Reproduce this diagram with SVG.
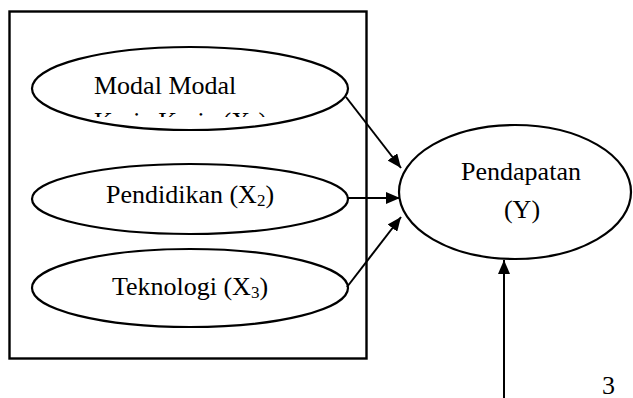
<svg xmlns="http://www.w3.org/2000/svg" width="633" height="398" viewBox="0 0 633 398">
  <style>
    .shape { fill: #ffffff; stroke: #000000; stroke-width: 2.2; }
    .frame { fill: none; stroke: #000000; stroke-width: 2.4; }
    .label { font-family: "Liberation Serif", "Times New Roman", serif; font-size: 26px; fill: #000000; }
    .sub { font-size: 17px; }
    .edge { stroke: #000000; stroke-width: 2; fill: none; marker-end: url(#arrow); }
  </style>
  <defs>
    <marker id="arrow" viewBox="0 0 14 12" refX="14" refY="6" markerWidth="14" markerHeight="12" markerUnits="userSpaceOnUse" orient="auto">
      <path d="M0,0 L14,6 L0,12 Z" fill="#000000"/>
    </marker>
    <!-- the second line of the first label only shows its top band -->
    <clipPath id="clip-x1">
      <rect x="60" y="100" width="260" height="17"/>
    </clipPath>
  </defs>

  <!-- boundary box around the independent variables -->
  <rect class="frame" x="9.5" y="11.5" width="357" height="347"/>

  <g id="x1">
    <ellipse class="shape" cx="190" cy="88.5" rx="158" ry="41.5"/>
    <text class="label" x="94" y="94">Modal Modal</text>
    <text class="label" x="94" y="130" clip-path="url(#clip-x1)">Kerja Kerja (X<tspan class="sub" dy="3">1</tspan><tspan dy="-3">)</tspan></text>
  </g>

  <g id="x2">
    <ellipse class="shape" cx="190" cy="199" rx="158" ry="35"/>
    <text class="label" x="190" y="203" text-anchor="middle">Pendidikan (X<tspan class="sub" dy="3">2</tspan><tspan dy="-3">)</tspan></text>
  </g>

  <g id="x3">
    <ellipse class="shape" cx="190" cy="288" rx="158" ry="39"/>
    <text class="label" x="190" y="295" text-anchor="middle">Teknologi (X<tspan class="sub" dy="3">3</tspan><tspan dy="-3">)</tspan></text>
  </g>

  <g id="y">
    <ellipse class="shape" cx="515" cy="192" rx="116" ry="67"/>
    <text class="label" x="521" y="180" text-anchor="middle">Pendapatan</text>
    <text class="label" x="522" y="218" text-anchor="middle">(Y)</text>
  </g>

  <g id="connectors">
    <line class="edge" x1="346" y1="97" x2="401" y2="168"/>
    <line class="edge" x1="348" y1="198" x2="400" y2="198"/>
    <line class="edge" x1="347" y1="287" x2="401" y2="217"/>
    <line class="edge" x1="504" y1="398" x2="504" y2="260"/>
  </g>

  <text class="label" x="602" y="394">3</text>
</svg>
